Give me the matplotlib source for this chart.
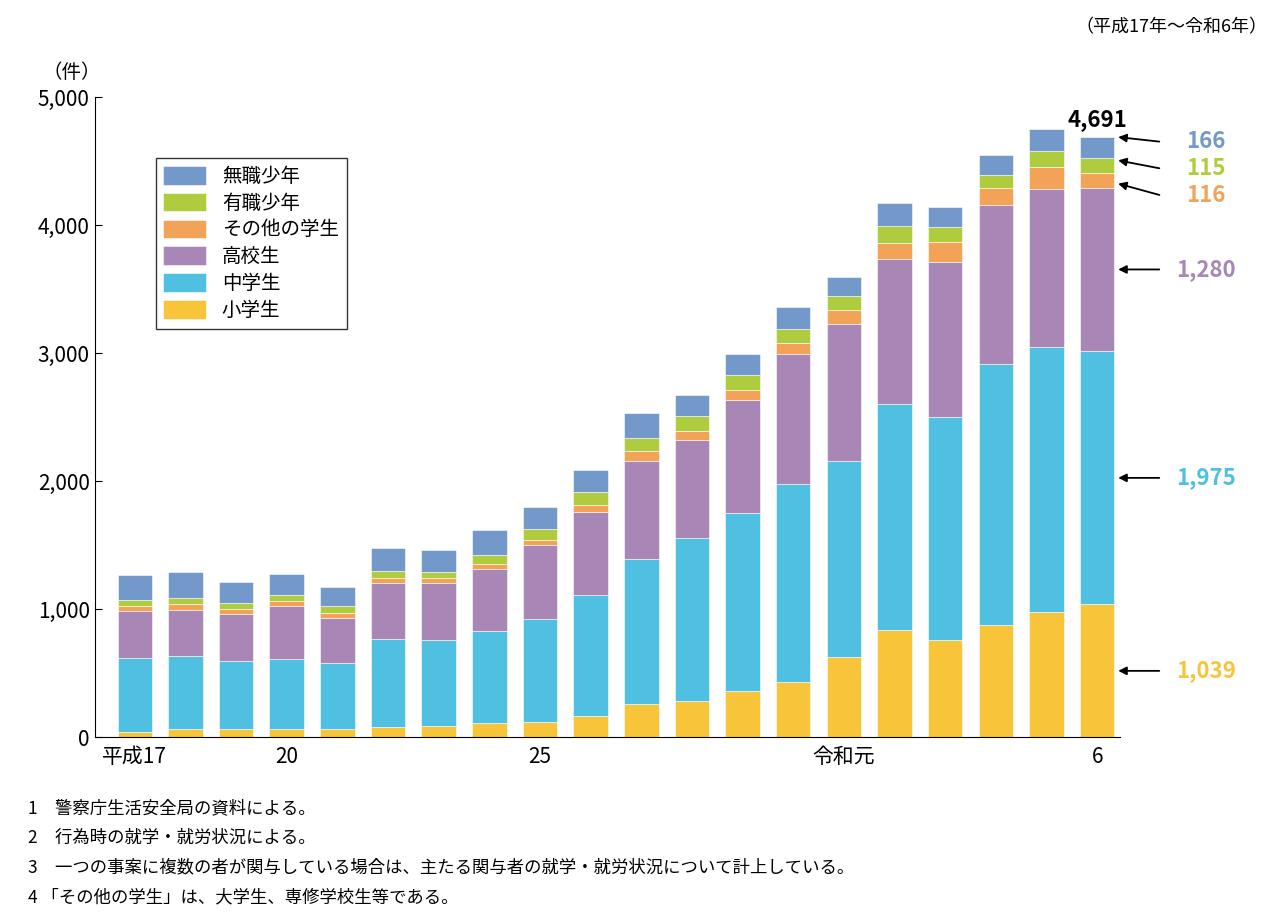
import matplotlib
matplotlib.use("Agg")
import matplotlib.pyplot as plt
import numpy as np

plt.rcParams['font.family'] = ['Noto Sans CJK JP', 'DejaVu Sans']

years = list(range(20))  # 平成17年〜令和6年
tick_pos = [0, 3, 8, 14, 19]
tick_labels = ["平成17", "20", "25", "令和元", "6"]

elem = [40, 62, 62, 62, 62, 78, 86, 109, 117, 164, 258, 281, 359, 430, 625, 836, 758, 875, 977, 1039]
mid = [577, 571, 532, 547, 516, 688, 672, 719, 805, 945, 1133, 1274, 1391, 1547, 1531, 1766, 1742, 2039, 2070, 1975]
high = [367, 359, 367, 414, 352, 437, 445, 485, 578, 649, 765, 765, 883, 1015, 1071, 1132, 1211, 1242, 1234, 1280]
other = [39, 47, 39, 39, 39, 39, 39, 39, 39, 55, 78, 71, 78, 86, 109, 125, 156, 133, 172, 116]
emp = [47, 47, 47, 47, 54, 55, 47, 70, 86, 101, 102, 117, 117, 110, 109, 133, 117, 102, 125, 115]
unemp = [196, 203, 164, 164, 149, 180, 172, 195, 172, 172, 195, 164, 164, 171, 149, 180, 157, 156, 172, 166]

series = [("小学生", elem, "#f8c53a"), ("中学生", mid, "#4fbfe2"),
          ("高校生", high, "#a886b6"), ("その他の学生", other, "#f2a358"),
          ("有職少年", emp, "#afcc3e"), ("無職少年", unemp, "#7299c9")]

fig = plt.figure(figsize=(12.8, 9.16), dpi=100)
ax = fig.add_axes([0.074, 0.195, 0.801, 0.699])

x = np.array(years)
bottom = np.zeros(len(x))
handles = {}
for name, vals, col in series:
    h = ax.bar(x, vals, 0.68, bottom=bottom, color=col, edgecolor="white", linewidth=0.4)
    handles[name] = h
    bottom += np.array(vals)

ax.set_xlim(-0.79, 19.45)
ax.set_ylim(0, 5000)
ax.set_yticks([0, 1000, 2000, 3000, 4000, 5000])
ax.set_yticklabels(["0", "1,000", "2,000", "3,000", "4,000", "5,000"], fontsize=15)
ax.set_xticks(tick_pos)
ax.set_xticklabels(tick_labels, fontsize=15)
ax.tick_params(axis="x", length=0, pad=6)
ax.tick_params(axis="y", length=5, direction="in")
for s in ["top", "right"]:
    ax.spines[s].set_visible(False)
ax.text(-1.25, 5150, "（件）", fontsize=14, ha="center")
fig.text(0.99, 0.965, "（平成17年〜令和6年）", fontsize=13, ha="right")

order = ["無職少年", "有職少年", "その他の学生", "高校生", "中学生", "小学生"]
leg = ax.legend([handles[n] for n in order], order, loc="upper left",
                bbox_to_anchor=(0.05, 0.92), fontsize=14, frameon=True,
                fancybox=False, edgecolor="black", handlelength=2.2,
                handleheight=1.1, labelspacing=0.3)
leg.get_frame().set_linewidth(1)

# 令和6年の内訳
last = len(x) - 1
total = int(bottom[last])
ax.text(last + 0.6, total + 40, f"{total:,}", fontsize=16, fontweight="bold", ha="right", va="bottom")
cum = np.cumsum([s[1][last] for s in series])
mids = cum - np.array([s[1][last] for s in series]) / 2
label_y = {"小学生": mids[0], "中学生": mids[1], "高校生": mids[2],
           "その他の学生": 4330, "有職少年": 4510, "無職少年": 4690}
text_y = {"小学生": mids[0], "中学生": mids[1], "高校生": mids[2],
          "その他の学生": 4230, "有職少年": 4440, "無職少年": 4650}
for i, (name, vals, col) in enumerate(series):
    ty = text_y[name]
    ay = mids[i] if name in ("小学生", "中学生", "高校生") else label_y[name]
    ax.annotate("", xy=(last + 0.36, ay), xytext=(last + 1.28, ty),
                arrowprops=dict(arrowstyle="-|>", color="black", lw=1.3,
                                mutation_scale=12), annotation_clip=False)
    ax.text(last + 2.15, ty, f"{vals[last]:,}", fontsize=16, fontweight="bold",
            color=col, ha="center", va="center", clip_on=False)

notes = ["1　警察庁生活安全局の資料による。",
         "2　行為時の就学・就労状況による。",
         "3　一つの事案に複数の者が関与している場合は、主たる関与者の就学・就労状況について計上している。",
         "4 「その他の学生」は、大学生、専修学校生等である。"]
for i, n in enumerate(notes):
    fig.text(0.022, 0.118 - i * 0.0325, n, fontsize=12.5, va="center")

fig.savefig("out.png", dpi=100, facecolor="white")
